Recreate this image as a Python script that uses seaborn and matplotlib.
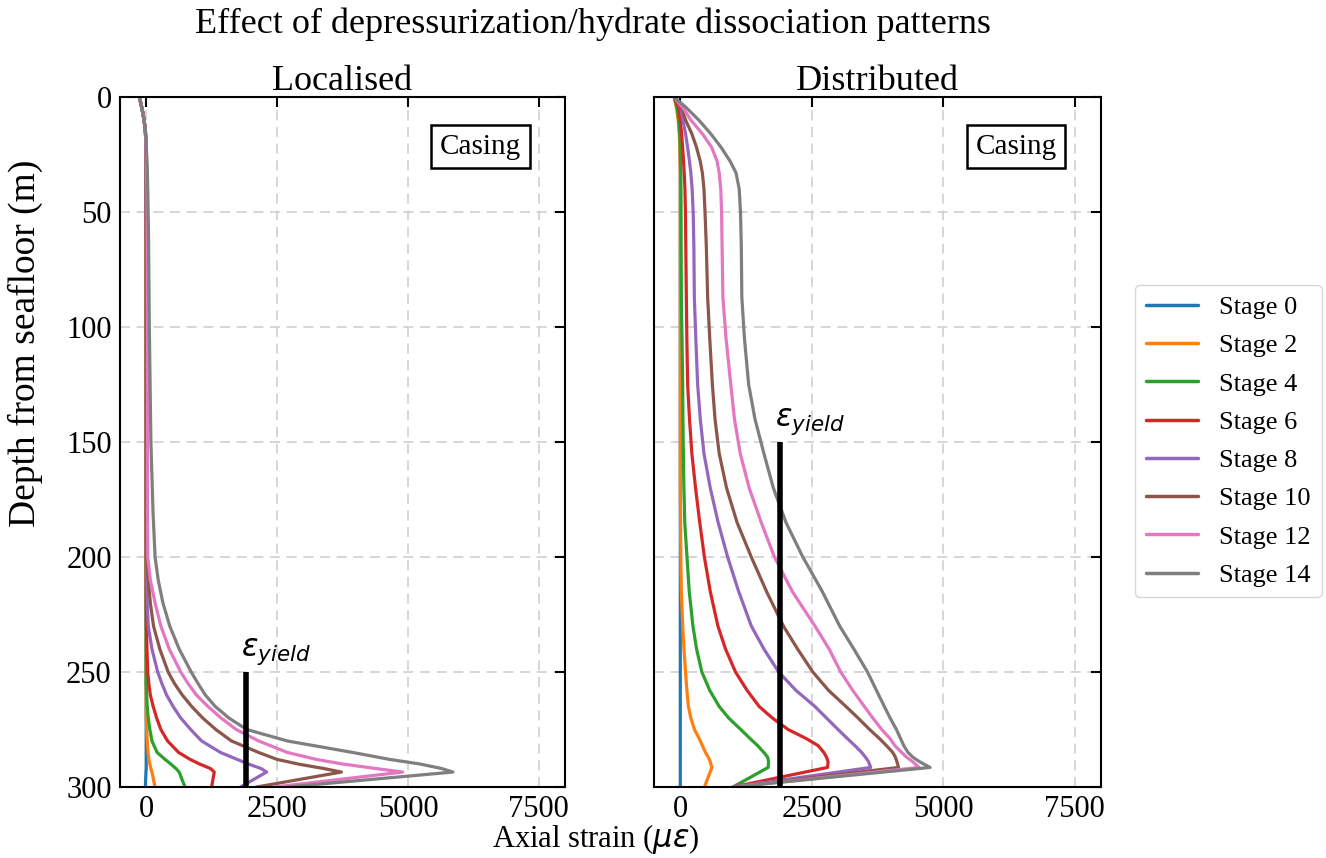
import numpy as np
import pandas as pd
import matplotlib
matplotlib.use("Agg")
import matplotlib.pyplot as plt
import seaborn as sns

# ---------------- data ----------------
stages = ["Stage 0", "Stage 2", "Stage 4", "Stage 6", "Stage 8", "Stage 10", "Stage 12", "Stage 14"]

# Localised panel
depth_loc = [0, 5, 10, 15, 20, 30, 40, 60, 100, 150, 180, 200, 210, 220, 230, 240, 250, 255,
             260, 265, 270, 275, 280, 285, 288, 290, 292, 293.5, 300]
loc_s0 = [-130, -80, -40, -15, -5, 0, 0, 0, 0, 0, 0, 0, 0, 0, 0, 0, 0, 0,
          0, 0, 0, 0, 0, 0, 0, 0, 0, -5, -15]
loc_s2 = [-130, -80, -40, -15, -5, 0, 0, 0, 0, 0, 0, 0, 0, 0, 0, 0, 0, 0,
          0, 0, 0, 10, 20, 35, 50, 70, 90, 110, 170]
loc_s4 = [-130, -80, -40, -15, -5, 0, 0, 0, 0, 0, 0, 0, 0, 0, 0, 0, 0, 0,
          10, 20, 40, 70, 110, 210, 360, 470, 570, 630, 740]
loc_s6 = [-130, -80, -40, -15, -5, 0, 0, 0, 0, 0, 0, 0, 0, 0, 5, 15, 30, 50,
          80, 134, 200, 280, 410, 620, 840, 1020, 1230, 1300, 1250]
loc_s8 = [-130, -80, -40, -15, -5, 0, 0, 5, 5, 5, 5, 5, 10, 20, 40, 110, 220, 300,
          390, 515, 660, 850, 1060, 1420, 1740, 1950, 2200, 2300, 1800]
loc_s10 = [-130, -80, -40, -15, -5, 0, 5, 8, 10, 10, 10, 15, 40, 80, 140, 260, 420, 540,
           690, 870, 1080, 1330, 1630, 2150, 2500, 2900, 3400, 3730, 2110]
loc_s12 = [-130, -80, -40, -15, -5, 5, 15, 20, 25, 25, 25, 30, 80, 170, 280, 440, 660, 800,
           960, 1180, 1430, 1720, 2150, 2700, 3250, 3750, 4400, 4900, 2450]
loc_s14 = [-130, -80, -40, -15, 0, 20, 30, 45, 60, 90, 130, 170, 230, 320, 450, 630, 860, 990,
           1130, 1320, 1580, 1920, 2700, 3950, 4650, 5230, 5650, 5860, 2700]

# Distributed panel
depth_dis = [0, 5, 10, 16, 22, 28, 33, 40, 50, 65, 87, 105, 125, 140, 155, 170, 185, 200,
             215, 230, 240, 250, 258, 265, 270, 275, 279, 282, 285, 287, 289, 291.5, 300]
dis_s0 = [-115, -50, -20, -5, 0, 0, 0, 0, 0, 0, 0, 0, 0, 0, 0, 0, 0, 0,
          0, 0, 0, 0, 0, 0, 0, 0, 0, 0, 0, 0, 0, 0, 0]
dis_s2 = [-115, -70, -40, -20, -10, -5, 0, 0, 0, 0, 0, 0, 0, 0, 0, 0, 5, 10,
          20, 45, 70, 100, 125, 155, 200, 270, 360, 420, 480, 530, 570, 600, 460]
dis_s4 = [-115, -60, -30, -10, 0, 5, 10, 12, 14, 16, 20, 32, 45, 50, 58, 68, 85, 127,
          170, 240, 310, 410, 560, 740, 920, 1150, 1330, 1470, 1590, 1660, 1680, 1670, 1000]
dis_s6 = [-115, -30, 0, 25, 45, 62, 75, 88, 98, 105, 115, 125, 140, 175, 220, 290, 370, 458,
          570, 715, 860, 1050, 1270, 1500, 1750, 2050, 2400, 2620, 2730, 2780, 2810, 2800, 1000]
dis_s8 = [-115, 15, 50, 100, 140, 175, 200, 225, 245, 258, 267, 295, 330, 380, 450, 570, 720, 900,
          1110, 1350, 1590, 1870, 2200, 2560, 2780, 3000, 3180, 3320, 3450, 3520, 3580, 3620, 1000]
dis_s10 = [-115, 30, 100, 220, 310, 380, 420, 450, 470, 495, 520, 560, 610, 660, 740, 880, 1080, 1350,
           1640, 1960, 2230, 2520, 2820, 3150, 3380, 3600, 3790, 3920, 4040, 4090, 4120, 4150, 1000]
dis_s12 = [-115, 60, 200, 420, 600, 700, 740, 770, 785, 795, 810, 870, 960, 1030, 1140, 1310, 1540, 1790,
           2130, 2560, 2830, 3050, 3280, 3500, 3660, 3830, 3990, 4080, 4210, 4300, 4420, 4540, 1000]
dis_s14 = [-115, 130, 350, 580, 780, 950, 1060, 1120, 1145, 1160, 1170, 1220, 1300, 1420, 1590, 1770, 2010, 2330,
           2700, 3030, 3300, 3560, 3730, 3880, 3990, 4110, 4190, 4250, 4330, 4420, 4550, 4750, 1000]

yield_strain = 1900
yield_top = [250, 150]   # top depth of the yield marker in each panel
panel_titles = ["Localised", "Distributed"]
x_ticks = [0, 2500, 5000, 7500]
y_ticks = [0, 50, 100, 150, 200, 250, 300]


def long_frame(depth, series):
    rows = []
    for name, vals in zip(stages, series):
        for d, v in zip(depth, vals):
            rows.append({"Stage": name, "strain": v, "depth": d})
    return pd.DataFrame(rows)


df_loc = long_frame(depth_loc, [loc_s0, loc_s2, loc_s4, loc_s6, loc_s8, loc_s10, loc_s12, loc_s14])
df_dis = long_frame(depth_dis, [dis_s0, dis_s2, dis_s4, dis_s6, dis_s8, dis_s10, dis_s12, dis_s14])

# ---------------- style ----------------
sns.set_theme(style="white")
plt.rcParams["font.family"] = ["Liberation Serif", "DejaVu Serif"]
plt.rcParams["mathtext.fontset"] = "dejavusans"
plt.rcParams["text.color"] = "black"
plt.rcParams["axes.labelcolor"] = "black"
plt.rcParams["xtick.color"] = "black"
plt.rcParams["ytick.color"] = "black"
palette = sns.color_palette("tab10", 8)

fig = plt.figure(figsize=(13.26, 8.58), dpi=100)
ax1 = fig.add_axes([120 / 1326, 1 - 787 / 858, 445 / 1326, 690 / 858])
ax2 = fig.add_axes([654 / 1326, 1 - 787 / 858, 447 / 1326, 690 / 858])

for i, (ax, df) in enumerate([(ax1, df_loc), (ax2, df_dis)]):
    sns.lineplot(data=df, x="strain", y="depth", hue="Stage", hue_order=stages,
                 palette=palette, estimator=None, sort=False, lw=2.3, ax=ax,
                 legend=(i == 0))
    for ln in ax.get_lines():
        ln.set_solid_joinstyle("round")
    ax.plot([yield_strain, yield_strain], [yield_top[i], 300], color="black", lw=4,
            solid_capstyle="butt", zorder=5)
    ax.text(yield_strain - 90, yield_top[i] - 2, r"$\varepsilon_{yield}$", fontsize=22,
            ha="left", va="bottom", zorder=6)
    ax.set_xlim(-500, 8000)
    ax.set_ylim(300, 0)
    ax.set_xticks(x_ticks)
    ax.set_yticks(y_ticks)
    ax.set_xlabel("")
    ax.set_ylabel("")
    ax.grid(True, linestyle=(0, (6, 4)), color="#d0d0d0", lw=1.2)
    ax.set_axisbelow(True)
    ax.tick_params(direction="in", length=7, width=1.5, top=True, right=True,
                   labelsize=22, pad=6, colors="black")
    for sp in ax.spines.values():
        sp.set_linewidth(1.5)
        sp.set_color("black")
    ax.set_title(panel_titles[i], fontsize=26, pad=5, color="black")
    ax.text(0.81, 0.928, "Casing", transform=ax.transAxes, ha="center", va="center",
            fontsize=21, zorder=7,
            bbox=dict(boxstyle="square,pad=0.3", fc="white", ec="black", lw=1.8))

ax2.tick_params(labelleft=False)

handles, labels = ax1.get_legend_handles_labels()
ax1.get_legend().remove()
leg = fig.legend(handles, labels, loc="upper left",
                 bbox_to_anchor=(1135 / 1326, 1 - 285 / 858), borderaxespad=0,
                 fontsize=19, handlelength=2.0, labelspacing=0.56, frameon=True)
for h in leg.get_lines():
    h.set_linewidth(2.5)

fig.text(0.447, 0.972, "Effect of depressurization/hydrate dissociation patterns",
         ha="center", va="center", fontsize=26)
fig.text(0.449, 0.022, r"Axial strain ($\mu\varepsilon$)", ha="center", va="center", fontsize=22)
fig.text(0.019, 0.6, "Depth from seafloor (m)", ha="center", va="center", rotation=90, fontsize=27)

fig.savefig("out.png", dpi=100)
